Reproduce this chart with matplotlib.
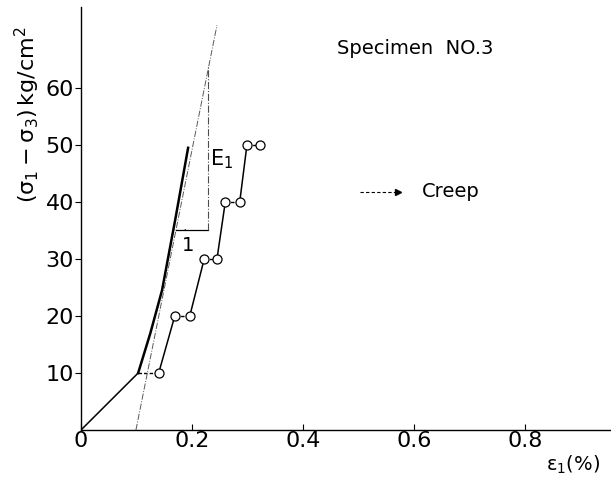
import numpy as np
import matplotlib
matplotlib.use('Agg')
import matplotlib.pyplot as plt
from matplotlib.patches import Arc

plt.rcParams['font.family'] = ['DejaVu Sans']
plt.rcParams['mathtext.fontset'] = 'dejavusans'
plt.rcParams['mathtext.default'] = 'regular'

# Test points (strain %, stress kg/cm2): loading step then creep step
strain = [0.0, 0.103, 0.14, 0.169, 0.196, 0.222, 0.245, 0.26, 0.286, 0.299, 0.323]
stress = [0, 10, 10, 20, 20, 30, 30, 40, 40, 50, 50]

# envelope (thick) curve
env_strain = [0.103, 0.125, 0.146, 0.17, 0.193]
env_stress = [10, 17, 24.5, 37, 49.5]

# tangent line for E1
tan_strain = [0.099, 0.245]
tan_stress = [0, 71]
tri_x = [0.172, 0.229]
tri_y = [35, 64]

xticks = [0, 0.2, 0.4, 0.6, 0.8]
xticklabels = ['0', '0.2', '0.4', '0.6', '0.8']
yticks = [10, 20, 30, 40, 50, 60]

fig = plt.figure(figsize=(6.11, 4.79), dpi=100)
ax = fig.add_axes([81/611, 49/479, 530/611, 423/479])
ax.set_xlim(0, 0.955)
ax.set_ylim(0, 74.2)

# loading segments solid, creep segments dashed
for i in range(0, len(strain)-1, 2):
    ax.plot(strain[i:i+2], stress[i:i+2], color='k', lw=1.1)
    ax.plot(strain[i+1:i+3], stress[i+1:i+3], color='k', lw=1.0, ls=(0, (2.5, 1.5)))
ax.plot(strain[2:], stress[2:], ls='none', marker='o', ms=6.5,
        mfc='white', mec='k', mew=0.9, zorder=5)

ax.plot(env_strain, env_stress, color='k', lw=1.8)
ax.plot(tan_strain, tan_stress, color='0.35', lw=0.7, ls='-.')
ax.plot(tri_x, [tri_y[0], tri_y[0]], color='k', lw=0.9)
ax.plot([tri_x[1], tri_x[1]], tri_y, color='0.3', lw=0.8, ls='-.')
ax.add_patch(Arc((tri_x[0] - 0.002, tri_y[0]), 0.036, 3.5, theta1=0, theta2=85,
                 edgecolor='k', lw=1.0, zorder=6))
ax.text(0.232, 47.5, r'E$_{1}$', fontsize=15, ha='left', va='center')
ax.text(0.193, 32.3, '1', fontsize=14, ha='center', va='center')

ax.text(0.461, 67, 'Specimen  NO.3', fontsize=14, ha='left', va='center')
ax.plot([0.503, 0.57], [41.8, 41.8], color='k', lw=0.8, ls=(0, (3, 2)))
ax.plot([0.572], [41.8], marker='>', ms=4, color='k')
ax.text(0.614, 41.8, 'Creep', fontsize=14, ha='left', va='center')

ax.set_xticks(xticks)
ax.set_xticklabels(xticklabels, fontsize=16)
ax.set_yticks(yticks)
ax.set_yticklabels([str(v) for v in yticks], fontsize=16)
ax.tick_params(axis='x', direction='in', length=4, width=0.8, pad=1)
ax.tick_params(axis='y', direction='out', length=4, width=0.8, pad=1)
for s in ['top', 'right']:
    ax.spines[s].set_visible(False)
for s in ['left', 'bottom']:
    ax.spines[s].set_linewidth(1.0)

ax.text(-0.097, 55.3, r'$(\sigma_1 - \sigma_3)\,$kg/cm$^2$', fontsize=16,
        rotation=90, ha='center', va='center')
ax.text(0.838, -6.2, r'$\epsilon_1$(%)', fontsize=14, ha='left', va='center')

fig.savefig('out.png', dpi=100)
